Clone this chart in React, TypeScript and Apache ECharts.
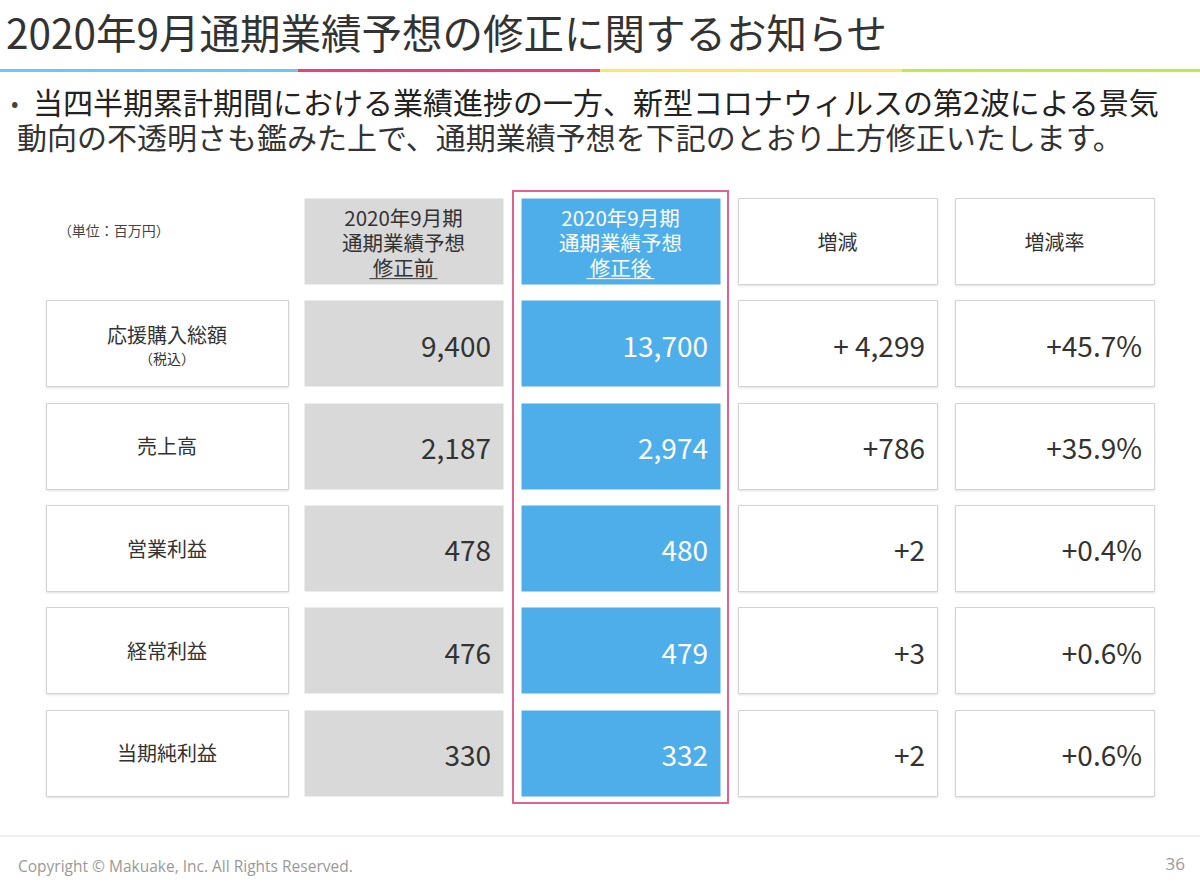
import React, { useEffect, useRef } from "react";
import * as echarts from "echarts";

const TITLE = "2020年9月通期業績予想の修正に関するお知らせ";
const BULLET_LINE1 = "当四半期累計期間における業績進捗の一方、新型コロナウィルスの第2波による景気";
const BULLET_LINE2 = "動向の不透明さも鑑みた上で、通期業績予想を下記のとおり上方修正いたします。";
const UNIT_NOTE = "（単位：百万円）";
const COPYRIGHT = "Copyright © Makuake, Inc. All Rights Reserved.";
const PAGE_NO = "36";

const columns = ["項目", "修正前", "修正後", "増減", "増減率"];
const headerBefore = ["2020年9月期", "通期業績予想", "修正前"];
const headerAfter = ["2020年9月期", "通期業績予想", "修正後"];
const rowLabels = ["応援購入総額", "売上高", "営業利益", "経常利益", "当期純利益"];
const rowSubLabels = ["（税込）", "", "", "", ""];
const beforeValues = [9400, 2187, 478, 476, 330];
const afterValues = [13700, 2974, 480, 479, 332];
const diffValues = [4299, 786, 2, 3, 2];
const rateValues = [45.7, 35.9, 0.4, 0.6, 0.6];

const FONT = '"Noto Sans CJK JP", "Noto Sans", sans-serif';
const TXT = "#333333";
const GRAY = "#d9d9d9";
const BLUE = "#4eaee9";
const PINK = "#e0628e";
const BORDER = "#d3d3d3";

const fmt = (v: number) => v.toLocaleString("en-US");
const fmtDiff = (v: number) => "+" + (v >= 1000 ? " " : "") + fmt(v);
const fmtRate = (v: number) => "+" + v.toFixed(1) + "%";

type Cell = { col: number; row: number };
const cells: Cell[] = [];
for (let r = 0; r <= rowLabels.length; r++) {
  for (let c = 0; c < columns.length; c++) cells.push({ col: c, row: r });
}

function txt(text: string, x: number, y: number, size: number, fill: string, align = "center", extra: any = {}) {
  return {
    type: "text",
    silent: true,
    style: {
      text,
      x,
      y,
      fill,
      fontSize: size,
      fontFamily: FONT,
      align,
      verticalAlign: "middle",
      textAlign: align,
      textVerticalAlign: "middle",
      ...extra,
    },
  };
}

function renderCell(params: any, api: any) {
  const cell = cells[params.dataIndex];
  const [cx, cy] = api.coord([api.value(0), api.value(1)]);
  const [bw, bh] = api.size([1, 1]);
  let x0 = cx - (bw - 18) / 2;
  let x1 = cx + (bw - 18) / 2;
  if (cell.col === 0) {
    x0 = cx - bw * 0.648;
    x1 = cx + bw * 0.468;
  }
  const h = bh - 16;
  const y0 = cy - h / 2;
  const children: any[] = [];
  const box = (fill: string, border: boolean) => {
    children.push({
      type: "rect",
      silent: true,
      shape: { x: Math.round(x0) + 0.5, y: Math.round(y0) + 0.5, width: Math.round(x1 - x0), height: Math.round(h) },
      style: border
        ? { fill, stroke: BORDER, lineWidth: 1, shadowBlur: 2, shadowOffsetY: 1, shadowColor: "rgba(0,0,0,0.12)" }
        : { fill },
    });
  };
  const r = cell.row;
  const c = cell.col;
  if (r === 0) {
    if (c === 0) {
      children.push(txt(UNIT_NOTE, x0 + 12, cy - 11, 14, "#444", "left"));
    } else if (c === 1 || c === 2) {
      const lines = c === 1 ? headerBefore : headerAfter;
      const color = c === 1 ? TXT : "#ffffff";
      box(c === 1 ? GRAY : BLUE, false);
      children.push(txt(lines.join("\n"), cx, cy + 1, 20.5, color, "center", { lineHeight: 25 }));
      children.push({
        type: "line",
        silent: true,
        shape: { x1: cx - 34, y1: cy + 37.5, x2: cx + 34, y2: cy + 37.5 },
        style: { stroke: color, lineWidth: 1 },
      });
    } else {
      box("#ffffff", true);
      children.push(txt(columns[c], cx, cy, 20, TXT));
    }
  } else {
    const i = r - 1;
    if (c === 0) {
      box("#ffffff", true);
      if (rowSubLabels[i]) {
        children.push(
          txt("{a|" + rowLabels[i] + "}\n{b|" + rowSubLabels[i] + "}", cx - bw * 0.09, cy + 1, 20, TXT, "center", {
            rich: {
              a: { fontSize: 20, fontFamily: FONT, fill: TXT, lineHeight: 26 },
              b: { fontSize: 14, fontFamily: FONT, fill: TXT, lineHeight: 20 },
            },
          })
        );
      } else {
        children.push(txt(rowLabels[i], cx - bw * 0.09, cy, 20, TXT));
      }
    } else {
      let label = "";
      let color = TXT;
      if (c === 1) {
        box(GRAY, false);
        label = fmt(beforeValues[i]);
      } else if (c === 2) {
        box(BLUE, false);
        label = fmt(afterValues[i]);
        color = "#ffffff";
      } else if (c === 3) {
        box("#ffffff", true);
        label = fmtDiff(diffValues[i]);
      } else {
        box("#ffffff", true);
        label = fmtRate(rateValues[i]);
      }
      children.push(txt(label, x1 - 12, cy + 1, 28, color, "right"));
    }
  }
  return { type: "group", children };
}

function renderHighlight(params: any, api: any) {
  const [cx] = api.coord([api.value(0), api.value(1)]);
  const [bw] = api.size([1, 1]);
  const cs = params.coordSys;
  return {
    type: "rect",
    silent: true,
    shape: { x: cx - bw / 2 + 1, y: cs.y + 1, width: bw - 2, height: cs.height - 2 },
    style: { fill: "none", stroke: PINK, lineWidth: 2 },
  };
}

export default function App() {
  const ref = useRef<HTMLDivElement>(null);
  useEffect(() => {
    if (!ref.current) return;
    const chart = echarts.init(ref.current, undefined, { renderer: "svg" });
    const segColors = ["#6ec6f5", "#e8417a", "#fde66a", "#c3e84a"];
    const segX = [0, 298, 600, 902, 1200];
    const vm = { textVerticalAlign: "middle", verticalAlign: "middle" };
    chart.setOption({
      animation: false,
      backgroundColor: "#ffffff",
      grid: { left: 78, right: 37, top: 190, bottom: 84 },
      xAxis: { type: "category", data: columns, show: false },
      yAxis: { type: "category", data: ["", ...rowLabels], inverse: true, show: false },
      tooltip: { show: false },
      graphic: [
        {
          type: "text",
          x: 6,
          y: 31,
          silent: true,
          style: { text: TITLE, fill: TXT, fontSize: 40.5, fontFamily: FONT, lineHeight: 44, ...vm },
        },
        ...segColors.map((col, i) => ({
          type: "rect",
          silent: true,
          shape: { x: segX[i], y: 69, width: segX[i + 1] - segX[i], height: 3 },
          style: { fill: col },
        })),
        {
          type: "text",
          x: 11,
          y: 101,
          silent: true,
          style: { text: "•", fill: "#444", fontSize: 22, fontFamily: FONT, lineHeight: 24, ...vm },
        },
        {
          type: "text",
          x: 33,
          y: 101,
          silent: true,
          style: { text: BULLET_LINE1, fill: "#222", fontSize: 30, fontFamily: FONT, lineHeight: 32, ...vm },
        },
        {
          type: "text",
          x: 17,
          y: 136,
          silent: true,
          style: { text: BULLET_LINE2, fill: "#333", fontSize: 30, fontFamily: FONT, lineHeight: 32, ...vm },
        },
        {
          type: "rect",
          silent: true,
          shape: { x: 0, y: 835, width: 1200, height: 2 },
          style: { fill: "#f0f0f0" },
        },
        {
          type: "text",
          x: 18,
          y: 866,
          silent: true,
          style: { text: COPYRIGHT, fill: "#999", fontSize: 15.5, fontFamily: '"Open Sans", "Noto Sans", sans-serif', ...vm },
        },
        {
          type: "text",
          x: 1185,
          y: 863,
          silent: true,
          style: { text: PAGE_NO, fill: "#999", fontSize: 17, fontFamily: '"Open Sans", "Noto Sans", sans-serif', textAlign: "right", align: "right", ...vm },
        },
      ],
      series: [
        {
          type: "custom",
          silent: true,
          coordinateSystem: "cartesian2d",
          renderItem: renderHighlight,
          data: [[2, 0]],
          z: 1,
        },
        {
          type: "custom",
          silent: true,
          coordinateSystem: "cartesian2d",
          renderItem: renderCell,
          data: cells.map((c) => [c.col, c.row]),
          z: 2,
        },
      ],
    });
    return () => chart.dispose();
  }, []);
  return (
    <div
      ref={ref}
      style={{ position: "absolute", left: 0, top: 0, width: 1200, height: 888, background: "#fff" }}
    />
  );
}
